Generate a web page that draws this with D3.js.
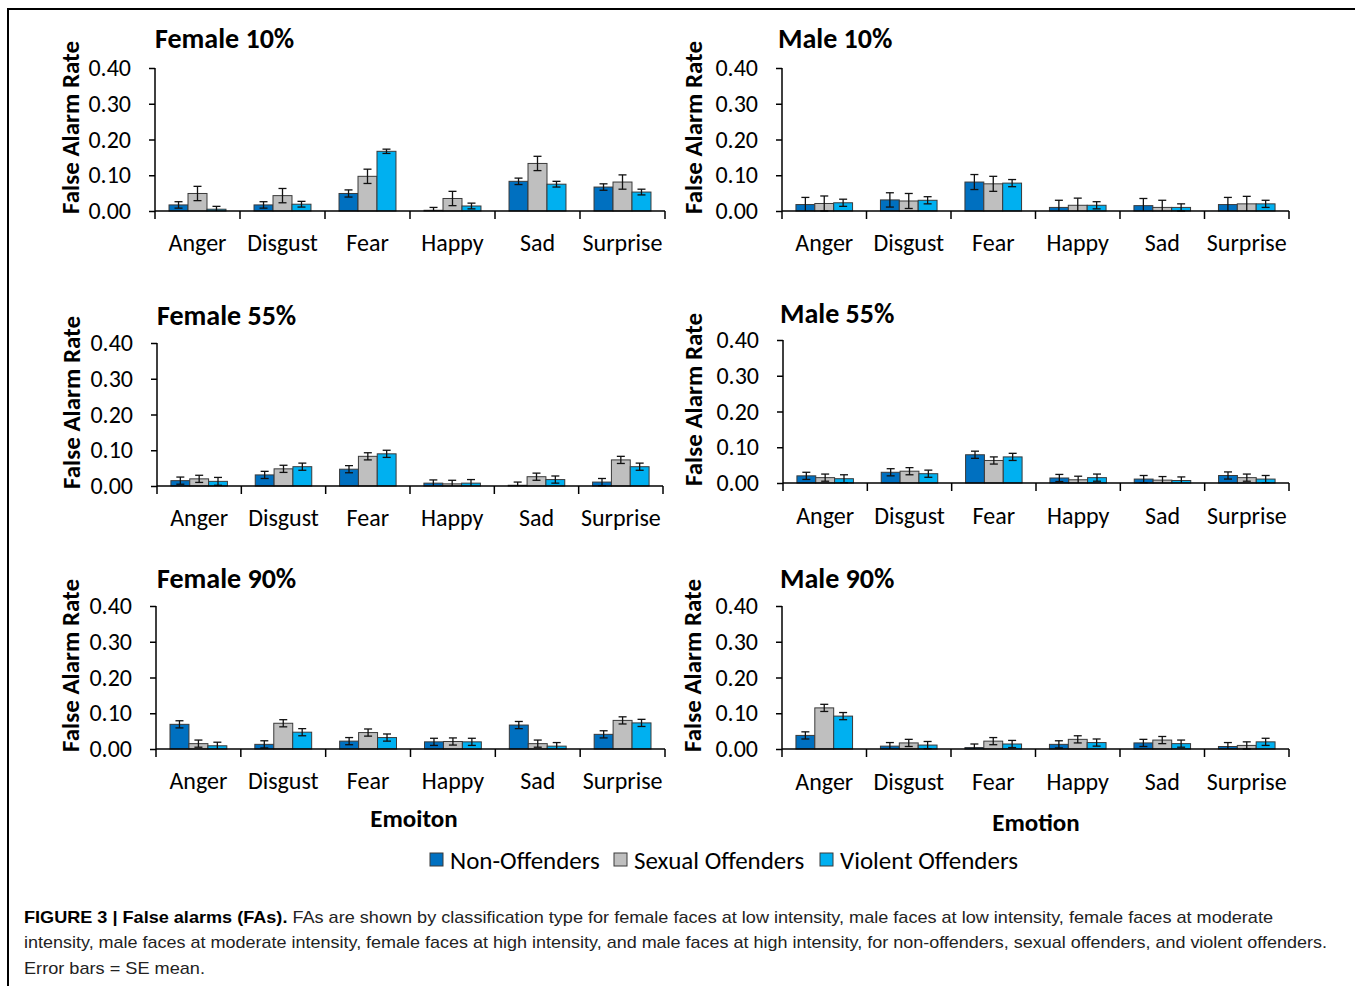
<!DOCTYPE html>
<html>
<head>
<meta charset="utf-8">
<script src="https://cdn.jsdelivr.net/npm/d3@7/dist/d3.min.js"></script>
<style>
  html, body { margin: 0; padding: 0; background: #fff; }
  svg { display: block; }
</style>
</head>
<body>
<svg id="chart" width="1355" height="986"></svg>
<script>
// ---------------- DATA ----------------
const categories = ["Anger", "Disgust", "Fear", "Happy", "Sad", "Surprise"];
const seriesNames = ["Non-Offenders", "Sexual Offenders", "Violent Offenders"];
const yTickValues = [0.00, 0.10, 0.20, 0.30, 0.40];
const yTickLabels = ["0.00", "0.10", "0.20", "0.30", "0.40"];
const panelTitles = ["Female 10%", "Male 10%", "Female 55%", "Male 55%", "Female 90%", "Male 90%"];

// values: [Non-Offenders, Sexual Offenders, Violent Offenders] x categories
const female10Values = [
  [0.017, 0.017, 0.049, 0.002, 0.083, 0.067],
  [0.049, 0.043, 0.097, 0.035, 0.133, 0.081],
  [0.005, 0.019, 0.167, 0.014, 0.075, 0.053]
];
const female10Errors = [
  [0.009, 0.009, 0.010, 0.008, 0.009, 0.009],
  [0.020, 0.020, 0.020, 0.020, 0.020, 0.020],
  [0.008, 0.008, 0.006, 0.008, 0.008, 0.008]
];
const male10Values = [
  [0.018, 0.031, 0.081, 0.010, 0.015, 0.018],
  [0.021, 0.028, 0.076, 0.016, 0.010, 0.020],
  [0.023, 0.030, 0.078, 0.016, 0.010, 0.020]
];
const male10Errors = [
  [0.020, 0.020, 0.021, 0.020, 0.020, 0.020],
  [0.021, 0.021, 0.021, 0.020, 0.020, 0.021],
  [0.010, 0.010, 0.010, 0.010, 0.010, 0.010]
];
const female55Values = [
  [0.015, 0.031, 0.047, 0.008, 0.002, 0.011],
  [0.020, 0.048, 0.083, 0.006, 0.026, 0.073],
  [0.013, 0.054, 0.090, 0.008, 0.018, 0.054]
];
const female55Errors = [
  [0.010, 0.010, 0.010, 0.009, 0.009, 0.010],
  [0.010, 0.010, 0.010, 0.010, 0.010, 0.010],
  [0.011, 0.010, 0.010, 0.010, 0.010, 0.010]
];
const male55Values = [
  [0.020, 0.030, 0.079, 0.014, 0.011, 0.021],
  [0.015, 0.033, 0.063, 0.009, 0.008, 0.015],
  [0.012, 0.026, 0.073, 0.015, 0.007, 0.011]
];
const male55Errors = [
  [0.010, 0.010, 0.010, 0.010, 0.010, 0.010],
  [0.010, 0.010, 0.010, 0.010, 0.010, 0.010],
  [0.011, 0.010, 0.010, 0.010, 0.010, 0.010]
];
const female90Values = [
  [0.069, 0.013, 0.022, 0.020, 0.067, 0.041],
  [0.015, 0.072, 0.046, 0.021, 0.015, 0.080],
  [0.009, 0.047, 0.032, 0.020, 0.008, 0.073]
];
const female90Errors = [
  [0.010, 0.010, 0.010, 0.010, 0.010, 0.010],
  [0.010, 0.010, 0.010, 0.010, 0.010, 0.010],
  [0.010, 0.010, 0.010, 0.010, 0.010, 0.010]
];
const male90Values = [
  [0.038, 0.008, 0.004, 0.013, 0.017, 0.007],
  [0.115, 0.017, 0.022, 0.027, 0.025, 0.010],
  [0.092, 0.011, 0.014, 0.018, 0.015, 0.020]
];
const male90Errors = [
  [0.010, 0.010, 0.010, 0.010, 0.010, 0.011],
  [0.010, 0.010, 0.010, 0.010, 0.010, 0.010],
  [0.010, 0.010, 0.010, 0.010, 0.010, 0.010]
];
const xAxisTitles = ["Emoiton", "Emotion"];
const captionBold = "FIGURE 3 | False alarms (FAs).";
const captionLines = [
  " FAs are shown by classification type for female faces at low intensity, male faces at low intensity, female faces at moderate",
  "intensity, male faces at moderate intensity, female faces at high intensity, and male faces at high intensity, for non-offenders, sexual offenders, and violent offenders.",
  "Error bars = SE mean."
];

// ---------------- STYLE / LAYOUT ----------------
const colors = ["#0070C0", "#BFBFBF", "#00B0F0"];
const chartFont = "Carlito, Lato, 'Open Sans', sans-serif";
const captionFont = "'Liberation Sans', Arial, sans-serif";

const panelData = [
  [female10Values, female10Errors],
  [male10Values, male10Errors],
  [female55Values, female55Errors],
  [male55Values, male55Errors],
  [female90Values, female90Errors],
  [male90Values, male90Errors]
];
const layout = [
  {x0: 155, x1: 665, yb: 211, yt: 68,  titleX: 155, titleY: 48,  yTitleX: 70,  labelY: 251},
  {x0: 782, x1: 1289, yb: 211, yt: 68, titleX: 778, titleY: 48,  yTitleX: 693, labelY: 251},
  {x0: 157, x1: 663, yb: 486, yt: 343, titleX: 157, titleY: 325, yTitleX: 71,  labelY: 526},
  {x0: 783, x1: 1289, yb: 483, yt: 340, titleX: 780, titleY: 323, yTitleX: 693, labelY: 524},
  {x0: 156, x1: 665, yb: 749, yt: 606, titleX: 157, titleY: 588, yTitleX: 70,  labelY: 789},
  {x0: 782, x1: 1289, yb: 749, yt: 606, titleX: 780, titleY: 588, yTitleX: 692, labelY: 790}
];

const svg = d3.select("#chart");

// outer frame
svg.append("line").attr("x1", 8).attr("x2", 1355).attr("y1", 9).attr("y2", 9)
  .attr("stroke", "#000").attr("stroke-width", 2);
svg.append("line").attr("x1", 8).attr("x2", 8).attr("y1", 8).attr("y2", 986)
  .attr("stroke", "#000").attr("stroke-width", 2);

panelData.forEach(([vals, errs], pi) => {
  const L = layout[pi];
  const g = svg.append("g");

  const x = d3.scaleBand().domain(categories).range([L.x0, L.x1])
    .paddingInner(0.33).paddingOuter(0.165);
  const xs = d3.scaleBand().domain(seriesNames).range([0, x.bandwidth()]).padding(0);
  const y = d3.scaleLinear().domain([0, 0.4]).range([L.yb, L.yt]);

  // Title
  g.append("text").attr("x", L.titleX).attr("y", L.titleY)
    .attr("font-family", chartFont).attr("font-weight", "bold").attr("font-size", 28)
    .attr("fill", "#000").text(panelTitles[pi]);

  // Y axis title
  const yc = (L.yb + L.yt) / 2 - 12;
  g.append("text")
    .attr("transform", `translate(${L.yTitleX},${yc}) rotate(-90)`)
    .attr("text-anchor", "middle").attr("dominant-baseline", "central")
    .attr("font-family", chartFont).attr("font-weight", "bold").attr("font-size", 25)
    .text("False Alarm Rate");

  // Y axis
  const yAxis = d3.axisLeft(y).tickValues(yTickValues)
    .tickFormat((d, i) => yTickLabels[i]).tickSize(6).tickPadding(18);
  const ya = g.append("g").attr("transform", `translate(${L.x0},0)`).call(yAxis);
  ya.select(".domain").attr("d", `M0,${L.yt}V${L.yb + 8}`).attr("stroke", "#000").attr("stroke-width", 1.5);
  ya.selectAll(".tick line").attr("stroke", "#000").attr("stroke-width", 1.5);
  ya.selectAll(".tick text").attr("font-family", chartFont).attr("font-size", 24).attr("fill", "#000");

  // Bars
  categories.forEach((c, ci) => {
    seriesNames.forEach((s, si) => {
      const v = vals[si][ci];
      const bx = x(c) + xs(s);
      g.append("rect")
        .attr("x", bx).attr("y", y(v))
        .attr("width", xs.bandwidth()).attr("height", y(0) - y(v))
        .attr("fill", colors[si]).attr("stroke", "#3a3a3a").attr("stroke-width", 1);
    });
  });
  // Error bars
  categories.forEach((c, ci) => {
    seriesNames.forEach((s, si) => {
      const v = vals[si][ci], e = errs[si][ci];
      const cx = x(c) + xs(s) + xs.bandwidth() / 2;
      const lo = Math.max(0, v - e), hi = v + e;
      const eg = g.append("g").attr("stroke", "#111").attr("stroke-width", 1.3);
      eg.append("line").attr("x1", cx).attr("x2", cx).attr("y1", y(lo)).attr("y2", y(hi));
      eg.append("line").attr("x1", cx - 4).attr("x2", cx + 4).attr("y1", y(hi)).attr("y2", y(hi));
      eg.append("line").attr("x1", cx - 4).attr("x2", cx + 4).attr("y1", y(v - e)).attr("y2", y(v - e))
        .attr("display", v - e < 0 ? "none" : null);
    });
  });

  // X axis
  const xAxis = d3.axisBottom(x).tickSize(0).tickPadding(0);
  const xa = g.append("g").attr("transform", `translate(0,${L.yb})`).call(xAxis);
  xa.select(".domain").attr("d", `M${L.x0},0H${L.x1}`).attr("stroke", "#000").attr("stroke-width", 1.5);
  xa.selectAll(".tick text").attr("y", L.labelY - L.yb).attr("dy", 0)
    .attr("font-family", chartFont).attr("font-size", 24).attr("fill", "#000");
  // category boundary ticks
  const step = x.step();
  d3.range(1, categories.length + 1).forEach(i => {
    const tx = L.x0 + i * step;
    xa.append("line").attr("x1", tx).attr("x2", tx).attr("y1", 0).attr("y2", 8)
      .attr("stroke", "#000").attr("stroke-width", 1.5);
  });
});

// X axis titles
svg.append("text").attr("x", 414).attr("y", 827).attr("text-anchor", "middle")
  .attr("font-family", chartFont).attr("font-weight", "bold").attr("font-size", 25).text(xAxisTitles[0]);
svg.append("text").attr("x", 1036).attr("y", 831).attr("text-anchor", "middle")
  .attr("font-family", chartFont).attr("font-weight", "bold").attr("font-size", 25).text(xAxisTitles[1]);

// Legend
const legendX = [430, 614, 820];
seriesNames.forEach((s, i) => {
  svg.append("rect").attr("x", legendX[i]).attr("y", 853).attr("width", 13).attr("height", 13)
    .attr("fill", colors[i]).attr("stroke", "#3a3a3a").attr("stroke-width", 1);
  svg.append("text").attr("x", legendX[i] + 20).attr("y", 869)
    .attr("font-family", chartFont).attr("font-size", 25).attr("fill", "#000").text(s);
});

// Caption
const capY = [923, 948, 974];
const capW = [1249, 1303, 181];
const t0 = svg.append("text").attr("x", 24).attr("y", capY[0])
  .attr("font-family", captionFont).attr("font-size", 17).attr("fill", "#222")
  .attr("textLength", capW[0]).attr("lengthAdjust", "spacingAndGlyphs");
t0.append("tspan").attr("font-weight", "bold").attr("fill", "#000").text(captionBold);
t0.append("tspan").text(captionLines[0]);
[1, 2].forEach(i => {
  svg.append("text").attr("x", 24).attr("y", capY[i])
    .attr("font-family", captionFont).attr("font-size", 17).attr("fill", "#222")
    .attr("textLength", capW[i]).attr("lengthAdjust", "spacingAndGlyphs")
    .text(captionLines[i]);
});
</script>
</body>
</html>
